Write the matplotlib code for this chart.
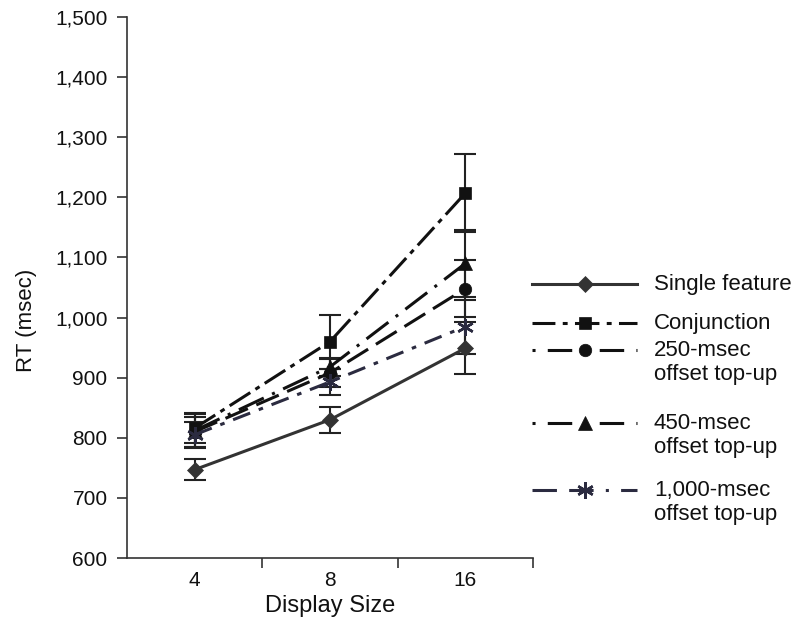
import numpy as np
import matplotlib.pyplot as plt
from matplotlib.lines import Line2D

# display sizes (category axis)
display_sizes = ['4', '8', '16']

series_names = ['Single feature', 'Conjunction', '250-msec\noffset top-up',
                '450-msec\noffset top-up', '1,000-msec\noffset top-up']

single_rt = [747, 830, 949]
single_err = [17, 22, 43]
conj_rt = [816, 960, 1207]
conj_err = [25, 45, 65]
top250_rt = [810, 908, 1048]
top250_err = [25, 23, 47]
top450_rt = [812, 918, 1090]
top450_err = [28, 15, 55]
top1000_rt = [805, 893, 985]
top1000_err = [22, 22, 45]

plt.rcParams['font.family'] = ['Liberation Sans', 'DejaVu Sans']

W, H = 793, 634
fig = plt.figure(figsize=(W / 100, H / 100), dpi=100)
ax = fig.add_axes([127 / W, 1 - 558 / H, 406 / W, 541 / H])

x = np.arange(len(display_sizes))
ink = '#222222'

styles = [
    dict(ls='-', marker='D', ms=8, color='#333333'),
    dict(ls=(0, (8, 2, 1.6, 2)), marker='s', ms=9, color='#111111'),
    dict(ls=(0, (8, 3)), marker='o', ms=9, color='#111111'),
    dict(ls=(0, (9, 3, 1, 3)), marker='^', ms=10, color='#111111'),
    dict(ls=(0, (6, 3, 1.5, 3)), marker=(6, 2, 0), ms=12, color='#2b2b40'),
]
# dash layout of the short legend samples (dot, long dashes)
legend_ls = ['-', (4.5, (1.6, 2.4, 8, 2.4)), (0, (1, 4, 8, 4)),
             (0, (1, 4, 8, 4)), (0, (8, 4, 8, 4, 1, 4))]

rts = [single_rt, conj_rt, top250_rt, top450_rt, top1000_rt]
errs = [single_err, conj_err, top250_err, top450_err, top1000_err]

handles = []
for name, rt, err, st in zip(series_names, rts, errs, styles):
    ax.errorbar(x, rt, yerr=err, fmt='none', ecolor=ink, elinewidth=1.5,
                capsize=8, capthick=1.5, zorder=2)
    mew = 1.8 if st['marker'] == (6, 2, 0) else 0.5
    h, = ax.plot(x, rt, linestyle=st['ls'], marker=st['marker'],
                 markersize=st['ms'], color=st['color'], linewidth=2.2,
                 markeredgewidth=mew, markeredgecolor=st['color'],
                 label=name, zorder=3)
    handles.append(h)

ax.set_xlim(-0.5, 2.5)
ax.set_ylim(600, 1500)
ax.set_yticks(np.arange(600, 1501, 100))
ax.set_yticklabels(['{:,}'.format(v) for v in range(600, 1501, 100)])
ax.set_xticks(x)
ax.set_xticklabels(display_sizes)
ax.set_xticks([0.5, 1.5, 2.5], minor=True)
ax.tick_params(axis='x', which='major', length=0, labelsize=15, pad=9, labelcolor='#111111')
ax.tick_params(axis='x', which='minor', length=7, width=1.2, color='#333333')
ax.tick_params(axis='y', length=7, width=1.2, color='#333333', labelsize=15, pad=7,
               labelcolor='#111111')

for s in ['top', 'right']:
    ax.spines[s].set_visible(False)
for s in ['left', 'bottom']:
    ax.spines[s].set_linewidth(1.2)
    ax.spines[s].set_color('#333333')

ax.set_xlabel('Display Size', fontsize=17, labelpad=4, color='#111111')
ax.set_ylabel('RT (msec)', fontsize=16, color='#111111')
ax.yaxis.set_label_coords(-0.222, 0.44)

# legend drawn in its own pixel-sized axes so the handles sit on the first text line
lax = fig.add_axes([0, 0, 1, 1], facecolor='none')
lax.set_xlim(0, W)
lax.set_ylim(H, 0)
lax.axis('off')
row_y = [284, 323, 350, 423, 490]
for h, name, ry, ls in zip(handles, series_names, row_y, legend_ls):
    lax.add_line(Line2D([532, 637], [ry, ry], linestyle=ls,
                        linewidth=2.2, color=h.get_color()))
    lax.add_line(Line2D([585], [ry], linestyle='none', marker=h.get_marker(),
                        markersize=h.get_markersize(), color=h.get_color(),
                        markeredgewidth=h.get_markeredgewidth(),
                        markeredgecolor=h.get_color()))
    lax.text(654, ry - 10, name, fontsize=16, va='top', ha='left', color='#111111',
             linespacing=1.2)

fig.savefig('out.png', dpi=100)
